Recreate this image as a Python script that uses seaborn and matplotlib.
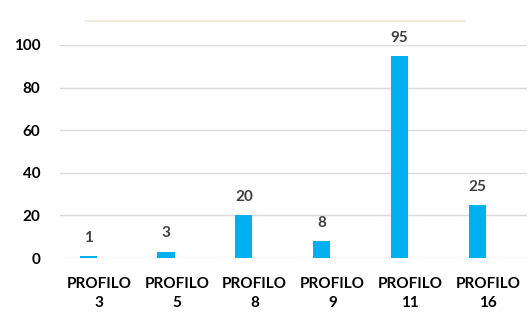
import matplotlib
matplotlib.use("Agg")
import matplotlib.pyplot as plt
import seaborn as sns
import pandas as pd
from matplotlib.lines import Line2D

categories = ["PROFILO\n3", "PROFILO\n5", "PROFILO\n8", "PROFILO\n9", "PROFILO\n11", "PROFILO\n16"]
values = [1, 3, 20, 8, 95, 25]
yticks = [0, 20, 40, 60, 80, 100]

sns.set_theme(style="white")
plt.rcParams['font.family'] = ['Lato', 'DejaVu Sans']

df = pd.DataFrame({
    "cat": categories * 2,
    "val": values + [0] * len(values),
    "series": ["A"] * len(values) + ["B"] * len(values),
})

fig = plt.figure(figsize=(5.29, 3.14), dpi=100)
ax = fig.add_axes([60 / 529, 1 - 258 / 314, (527 - 60) / 529, (258 - 45) / 314])

sns.barplot(data=df, x="cat", y="val", hue="series", palette=["#00b0f0", "#ffffff"],
            saturation=1, width=0.55, gap=0.2, linewidth=0, legend=False, ax=ax, errorbar=None)

ax.set_ylim(0, 100)
ax.set_yticks(yticks)
ax.set_xlim(-0.5, len(categories) - 0.5)
ax.yaxis.grid(True, color="#d9d9d9", linewidth=1)
ax.set_axisbelow(True)
for s in ax.spines.values():
    s.set_visible(False)
ax.set_xlabel("")
ax.set_ylabel("")
ax.tick_params(axis="y", length=0, pad=14, labelsize=11, labelcolor="black")
ax.tick_params(axis="x", length=0, pad=14, labelsize=11, labelcolor="black")
for lab in ax.get_yticklabels() + ax.get_xticklabels():
    lab.set_fontweight("bold")
for lab in ax.get_xticklabels():
    lab.set_linespacing(1.4)

ax.bar_label(ax.containers[0], labels=[str(v) for v in values], padding=8,
             fontsize=11, fontweight="bold", color="#404040", clip_on=False)

fig.add_artist(Line2D([85 / 529, 465 / 529], [1 - 21 / 314, 1 - 21 / 314],
                      color="#ede9dd", linewidth=1.2, transform=fig.transFigure))

fig.savefig("out.png", dpi=100)
